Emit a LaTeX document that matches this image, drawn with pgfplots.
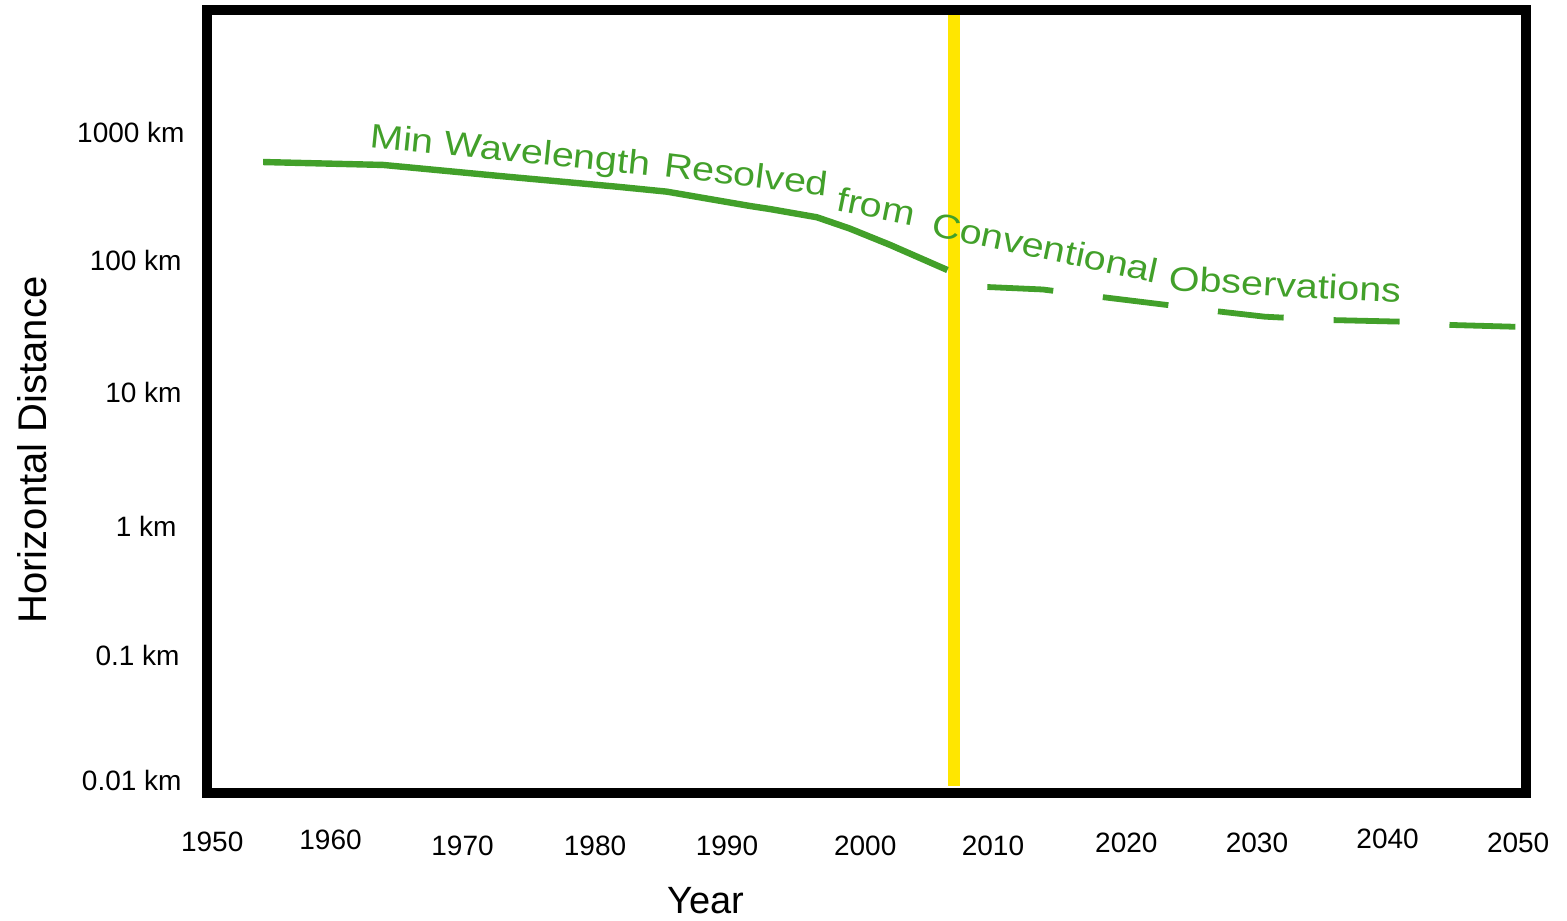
\documentclass[border=0pt]{standalone}
\usepackage{fontspec}
\setmainfont{Liberation Sans}
\newfontfamily\stretchfont[FakeStretch=1.16]{Liberation Sans}
\usepackage{pgfplots}
\pgfplotsset{compat=1.18}
\definecolor{linegreen}{RGB}{66,160,42}
\definecolor{markyellow}{RGB}{255,230,0}

\pgfplotstableread{
year dist
1953.9 592
1963.1 562
1972.0 462
1981.0 382
1984.8 350
1991.2 271
1992.7 257
1996.3 222
1998.8 182
2001.9 136
2006.3 87
}\observed

\pgfplotstableread{
year dist
2006.3 87
2009.3 64.4
2013.6 61.6
2018.1 53.9
2023.1 46.8
2026.8 42.0
2030.6 38.0
2035.7 35.8
2041.0 34.8
2044.9 32.8
2050.6 31.6
}\projected

\pgfplotstableread{
year dist
2006.8 8197
2006.8 0.00915
}\nowline

\begin{document}
\begin{tikzpicture}
\useasboundingbox (-103.5pt,-63.5pt) rectangle (680pt,396.5pt);
\begin{axis}[
  at={(0pt,0pt)}, anchor=south west,
  scale only axis, width=659.5pt, height=391.5pt,
  xmin=1949.6, xmax=2050.6,
  ymode=log, ymin=0.00808, ymax=8800,
  axis line style={line width=5pt, line join=miter},
  axis on top,
  major tick length=0pt, minor tick length=0pt,
  xtick={1950,1960,1970,1980,1990,2000,2010,2020,2030,2040,2050},
  xticklabels={
    \raisebox{0.65pt}{1950},
    \raisebox{2pt}{1960}\hspace*{12.3pt},
    \raisebox{-1pt}{1970}\hspace*{10.9pt},
    \raisebox{-1pt}{1980}\hspace*{9pt},
    \raisebox{-1pt}{1990}\hspace*{7.6pt},
    \raisebox{-1pt}{2000},
    \raisebox{-1pt}{2010}\hspace*{2.8pt},
    \raisebox{0.5pt}{2020},
    \raisebox{0.5pt}{2030},
    \raisebox{2.5pt}{2040},
    \raisebox{0.5pt}{2050}},
  ytick={0.01,0.1,1,10,100,1000},
  yticklabels={
    0.01 km,
    \raisebox{-2.35pt}{0.1 km}\hspace*{1pt},
    \raisebox{-2.5pt}{1 km}\hspace*{2.5pt},
    \raisebox{-0.55pt}{10 km},
    \raisebox{0.6pt}{100 km},
    1000 km\hspace*{-1.5pt}},
  xticklabel style={font=\fontsize{14}{16}\selectfont, inner sep=0pt, anchor=base, yshift=-30pt},
  yticklabel style={font=\fontsize{14}{16}\selectfont, inner sep=0pt, anchor=base east, xshift=-12.5pt, yshift=-5pt},
  xlabel={Year},
  ylabel={Horizontal Distance},
  xlabel style={at={(rel axis cs:0.3783,-0.1379)}, anchor=center, inner sep=0pt, font=\fontsize{19}{22}\selectfont},
  ylabel style={at={(rel axis cs:-0.1327,0.438)}, anchor=center, inner sep=0pt, font=\fontsize{20}{24}\selectfont},
]
\addplot[markyellow, line width=5.85pt, line cap=butt] table[x=year, y=dist] {\nowline};
\addplot[linegreen, line width=3.2pt, line join=round, line cap=butt] table[x=year, y=dist] {\observed};
\addplot[linegreen, line width=2.9pt, line join=round, line cap=butt, dash pattern=on 33pt off 25pt, dash phase=36.3pt] table[x=year, y=dist] {\projected};

\begin{scope}[every node/.style={anchor=base west, inner sep=0pt, text=linegreen, font=\stretchfont\fontsize{17}{20}\selectfont}]
\node[rotate=-5.8] at (rel axis cs:0.1228,0.8250) {Min Wavelength};
\node[rotate=-7] at (rel axis cs:0.3457,0.7880) {Resolved};
\node[rotate=-11.5] at (rel axis cs:0.4761,0.7446) {from};
\node[rotate=-12] at (rel axis cs:0.5481,0.7126) {Conventional};
\node[rotate=-3.2] at (rel axis cs:0.7286,0.6424) {Observations};
\end{scope}
\end{axis}
\end{tikzpicture}
\end{document}
